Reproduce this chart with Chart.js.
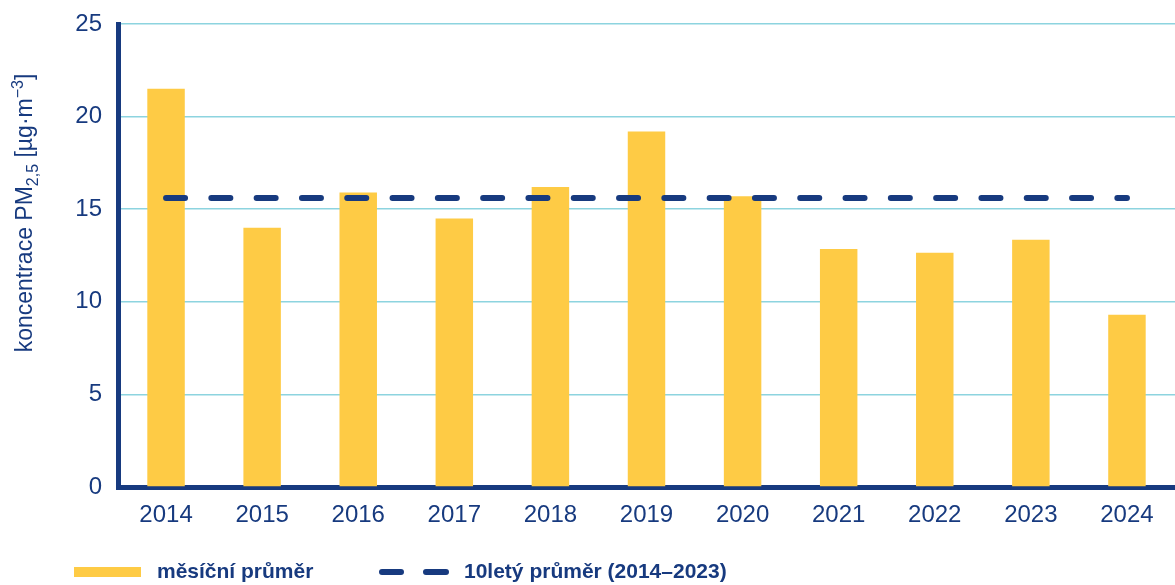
<!DOCTYPE html>
<html>
<head>
<meta charset="utf-8">
<script src="https://cdn.jsdelivr.net/npm/chart.js@4"></script>
<style>
  html, body { margin: 0; padding: 0; background: #fff; }
  #wrap { width: 1175px; height: 585px; }
</style>
</head>
<body>
<div id="wrap"><canvas id="canvas"></canvas></div>
<script>
const years = ['2014', '2015', '2016', '2017', '2018', '2019', '2020', '2021', '2022', '2023', '2024'];
const monthlyMean = [21.5, 14.0, 15.9, 14.5, 16.2, 19.2, 15.7, 12.85, 12.65, 13.35, 9.3];
const tenYearMean = [15.6, 15.6, 15.6, 15.6, 15.6, 15.6, 15.6, 15.6, 15.6, 15.6, 15.6];
const yTicks = [0, 5, 10, 15, 20, 25];
const legendLabels = ['měsíční průměr', '10letý průměr (2014–2023)'];

const navy = '#173a7f';
const yellow = '#fecb45';
const grid = '#8dd4df';
const font = "'Liberation Sans', Arial, sans-serif";

// y axis title with sub/superscripts, drawn rotated
const yTitle = {
  id: 'yTitle',
  afterDraw(chart) {
    const ctx = chart.ctx;
    const parts = [
      ['koncentrace PM', 23, 0],
      ['2,5', 16, 6],
      [' [µg·m', 23, 0],
      ['−3', 16, -9],
      [']', 23, 0]
    ];
    ctx.save();
    let total = 0;
    parts.forEach(p => { ctx.font = p[1] + 'px ' + font; total += ctx.measureText(p[0]).width; });
    ctx.translate(32, 213);
    ctx.rotate(-Math.PI / 2);
    ctx.fillStyle = navy;
    ctx.textBaseline = 'alphabetic';
    let x = -total / 2;
    parts.forEach(p => {
      ctx.font = p[1] + 'px ' + font;
      ctx.fillText(p[0], x, p[2]);
      x += ctx.measureText(p[0]).width;
    });
    ctx.restore();
  }
};

// legend under the chart
const bottomLegend = {
  id: 'bottomLegend',
  afterDraw(chart) {
    const ctx = chart.ctx;
    const y = 572;
    ctx.save();
    ctx.fillStyle = yellow;
    ctx.fillRect(74, y - 5, 67, 10);
    ctx.strokeStyle = navy;
    ctx.lineWidth = 6;
    ctx.lineCap = 'round';
    ctx.beginPath();
    ctx.moveTo(382, y); ctx.lineTo(401, y);
    ctx.moveTo(426, y); ctx.lineTo(446, y);
    ctx.stroke();
    ctx.fillStyle = navy;
    ctx.font = 'bold 21px ' + font;
    ctx.textBaseline = 'middle';
    ctx.fillText(legendLabels[0], 157, y);
    ctx.fillText(legendLabels[1], 464, y);
    ctx.restore();
  }
};

new Chart(document.getElementById('canvas'), {
  data: {
    labels: years,
    datasets: [{
      type: 'bar',
      label: legendLabels[0],
      data: monthlyMean,
      backgroundColor: yellow,
      categoryPercentage: 1,
      barPercentage: 0.39,
      order: 2
    }, {
      type: 'line',
      label: legendLabels[1],
      data: tenYearMean,
      borderColor: navy,
      backgroundColor: navy,
      borderWidth: 6,
      borderDash: [19, 26.3],
      borderCapStyle: 'round',
      pointRadius: 0,
      order: 1
    }]
  },
  options: {
    responsive: true,
    maintainAspectRatio: false,
    animation: false,
    layout: { padding: { top: 24, right: -14, left: 0, bottom: 0 } },
    plugins: {
      tooltip: { enabled: false },
      legend: { display: false }
    },
    scales: {
      x: {
        afterFit(s) { s.height = 98; s.paddingLeft = 0; s.paddingRight = 0; },
        grid: { display: false, drawTicks: false },
        border: { color: navy, width: 5 },
        ticks: { color: navy, font: { family: font, size: 24 }, padding: 14 }
      },
      y: {
        min: 0,
        max: 25,
        afterBuildTicks(s) { s.ticks = yTicks.map(v => ({ value: v })); },
        afterFit(s) { s.width = 118; s.paddingTop = 0; s.paddingBottom = 0; },
        grid: {
          color: ctx => ctx.tick && ctx.tick.value === 0 ? 'rgba(0,0,0,0)' : grid,
          lineWidth: 1.5,
          drawTicks: false
        },
        border: { color: navy, width: 5 },
        ticks: { color: navy, font: { family: font, size: 24 }, padding: 16 }
      }
    }
  },
  plugins: [yTitle, bottomLegend]
});
</script>
</body>
</html>
